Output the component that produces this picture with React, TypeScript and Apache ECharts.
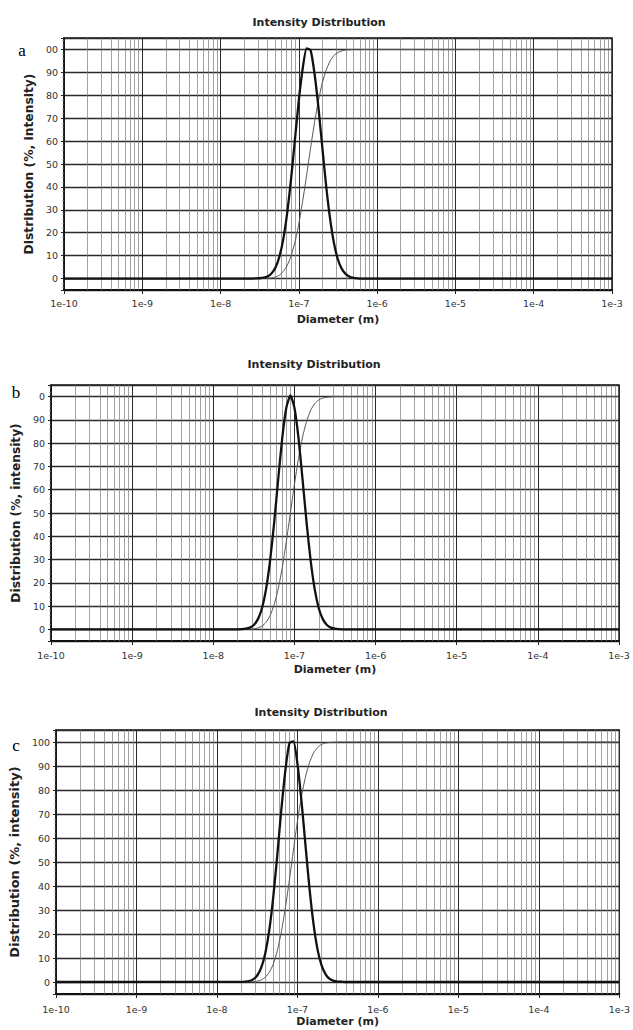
import React, { useEffect, useRef } from 'react';
import * as echarts from 'echarts';

// Diameter grid (m) shared by the three measurements
const diameters = [
  1e-10, 1.995e-8, 2.239e-8, 2.512e-8, 2.818e-8, 3.162e-8, 3.548e-8, 3.981e-8, 4.467e-8,
  5.012e-8, 5.623e-8, 6.31e-8, 7.079e-8, 7.943e-8, 8.913e-8, 1.0e-7, 1.122e-7, 1.259e-7,
  1.413e-7, 1.585e-7, 1.778e-7, 1.995e-7, 2.239e-7, 2.512e-7, 2.818e-7, 3.162e-7, 3.548e-7,
  3.981e-7, 4.467e-7, 5.012e-7, 5.623e-7, 6.31e-7, 1e-3,
];

// Panel a
const intensityA = [
  0, 0, 0, 0, 0.04, 0.13, 0.36, 0.93, 2.2, 4.7, 9.4, 17.0, 28.3, 43.3, 60.7, 78.0, 91.9, 100.5,
  99.6, 89.5, 74.7, 57.1, 40.0, 25.8, 15.2, 8.2, 4.1, 1.9, 0.8, 0.3, 0.1, 0, 0,
];
const cumulativeA = [
  0, 0, 0, 0, 0, 0, 0.04, 0.11, 0.29, 0.68, 1.46, 3.0, 5.6, 9.8, 15.9, 23.9, 34.1, 45.2, 57.1,
  68.1, 77.6, 85.5, 91.1, 95.0, 97.4, 98.7, 99.4, 99.8, 99.9, 100, 100, 100, 100,
];

// Panel b
const intensityB = [
  0, 0.03, 0.09, 0.27, 0.76, 1.9, 4.4, 9.1, 17.2, 29.5, 45.8, 64.5, 82.3, 95.2, 100.5, 95.2,
  82.3, 64.5, 45.8, 29.5, 17.2, 9.1, 4.4, 1.9, 0.76, 0.27, 0.09, 0.03, 0, 0, 0, 0, 0,
];
const cumulativeB = [
  0, 0, 0, 0.03, 0.09, 0.25, 0.62, 1.43, 3.04, 5.9, 10.6, 17.4, 26.6, 37.7, 50.0, 62.3, 73.4,
  82.6, 89.4, 94.1, 97.0, 98.6, 99.4, 99.75, 99.9, 100, 100, 100, 100, 100, 100, 100, 100,
];

// Panel c
const intensityC = [
  0, 0.04, 0.14, 0.41, 1.1, 2.7, 6.0, 11.9, 21.6, 35.6, 53.1, 71.9, 88.2, 99.5, 100.3, 90.9,
  75.5, 56.9, 38.9, 24.1, 13.5, 6.9, 3.2, 1.3, 0.5, 0.2, 0.1, 0, 0, 0, 0, 0, 0,
];
const cumulativeC = [
  0, 0, 0, 0.05, 0.13, 0.36, 0.87, 1.97, 4.0, 7.5, 13.0, 20.9, 30.9, 42.5, 55.0, 67.0, 77.3,
  85.5, 91.5, 95.4, 97.7, 99.0, 99.6, 99.8, 99.9, 100, 100, 100, 100, 100, 100, 100, 100,
];

const xTickLabels = ['1e-10', '1e-9', '1e-8', '1e-7', '1e-6', '1e-5', '1e-4', '1e-3'];
const yTickLabelsA = ['0', '10', '20', '30', '40', '50', '60', '70', '80', '90', '00'];
const yTickLabelsB = ['0', '10', '20', '30', '40', '50', '60', '70', '80', '90', '0'];
const yTickLabelsC = ['0', '10', '20', '30', '40', '50', '60', '70', '80', '90', '100'];
const minorMultipliers = [2, 3, 4, 5, 6, 7, 8, 9];
const decadeExponents = [-10, -9, -8, -7, -6, -5, -4];
const panelLetters = ['a', 'b', 'c'];
const chartTitle = 'Intensity Distribution';
const xAxisTitle = 'Diameter (m)';
const yAxisTitle = 'Distribution (%, intensity)';

const panelData = [
  { intensity: intensityA, cumulative: cumulativeA, yLabels: yTickLabelsA },
  { intensity: intensityB, cumulative: cumulativeB, yLabels: yTickLabelsB },
  { intensity: intensityC, cumulative: cumulativeC, yLabels: yTickLabelsC },
];

const layout = [
  { left: 64, top: 38, width: 548, height: 252, titleX: 319, titleY: 22, letterX: 22, letterY: 50,
    xNameGap: 24, yNameGap: 25, yNameSize: 12.3, xLabelMargin: 8 },
  { left: 51, top: 385, width: 568, height: 256, titleX: 314, titleY: 364, letterX: 16, letterY: 392,
    xNameGap: 23, yNameGap: 25, yNameSize: 12.2, xLabelMargin: 9 },
  { left: 54, top: 730, width: 568, height: 264, titleX: 321, titleY: 712, letterX: 16, letterY: 745,
    xNameGap: 22, yNameGap: 27, yNameSize: 13, xLabelMargin: 10 },
];

const minorGridValues: number[] = [];
decadeExponents.forEach((e) => {
  minorMultipliers.forEach((m) => {
    minorGridValues.push(m * Math.pow(10, e));
  });
});

function buildOption() {
  const boldFont = 'DejaVu Sans';
  return {
    animation: false,
    backgroundColor: '#ffffff',
    grid: layout.map((p) => ({
      left: p.left,
      top: p.top,
      width: p.width,
      height: p.height,
      show: true,
      borderColor: '#111',
      borderWidth: 1.4,
      backgroundColor: 'transparent',
    })),
    xAxis: layout.map((p, i) => ({
      type: 'log',
      logBase: 10,
      gridIndex: i,
      min: 1e-10,
      max: 1e-3,
      name: xAxisTitle,
      nameLocation: 'middle',
      nameGap: p.xNameGap,
      nameTextStyle: { fontFamily: boldFont, fontWeight: 'bold', fontSize: 11, color: '#222' },
      axisLine: { show: true, onZero: false, lineStyle: { color: '#111', width: 2 } },
      axisTick: { show: true, inside: false, length: 4, lineStyle: { color: '#222', width: 1 } },
      axisLabel: {
        formatter: (v: number) => xTickLabels[Math.round(Math.log10(v)) + 10] ?? '',
        fontFamily: 'DejaVu Sans',
        fontSize: 9.5,
        color: '#333',
        margin: p.xLabelMargin,
        showMinLabel: true,
        showMaxLabel: true,
      },
      splitLine: { show: true, lineStyle: { color: '#2a2a2a', width: 1 } },
    })),
    yAxis: layout.map((p, i) => ({
      type: 'value',
      gridIndex: i,
      min: -5,
      max: 105,
      splitNumber: 11,
      name: yAxisTitle,
      nameLocation: 'middle',
      nameGap: p.yNameGap,
      nameTextStyle: { fontFamily: boldFont, fontWeight: 'bold', fontSize: p.yNameSize, color: '#222' },
      axisLine: { show: true, lineStyle: { color: '#111', width: 1.5 } },
      axisTick: { show: true, length: 3, lineStyle: { color: '#222' } },
      minorTick: { show: true, splitNumber: 5, length: 1.5, lineStyle: { color: '#666' } },
      axisLabel: {
        formatter: (v: number) => {
          const idx = Math.round(v / 10);
          if (v < 0 || v > 100 || Math.abs(v - idx * 10) > 1e-6) return '';
          return panelData[i].yLabels[idx];
        },
        showMinLabel: false,
        showMaxLabel: false,
        margin: 6,
        fontFamily: 'DejaVu Sans',
        fontSize: 9.5,
        color: '#333',
      },
      splitLine: { show: true, lineStyle: { color: '#2a2a2a', width: 1.3 } },
    })),
    series: panelData.flatMap((pd, i) => [
      {
        type: 'line',
        name: 'cumulative-' + panelLetters[i],
        xAxisIndex: i,
        yAxisIndex: i,
        data: diameters.map((d, k) => [d, pd.cumulative[k]]),
        showSymbol: false,
        smooth: 0.2,
        z: 3,
        lineStyle: { color: '#555', width: 1 },
        markLine: {
          silent: true,
          symbol: 'none',
          z: 1,
          animation: false,
          label: { show: false },
          lineStyle: { color: '#7a7a7a', width: 0.7, type: 'solid' },
          data: minorGridValues.map((v) => [{ coord: [v, -5] }, { coord: [v, 105] }]),
        },
      },
      {
        type: 'line',
        name: 'intensity-' + panelLetters[i],
        xAxisIndex: i,
        yAxisIndex: i,
        data: diameters.map((d, k) => [d, pd.intensity[k]]),
        showSymbol: false,
        smooth: 0.2,
        z: 4,
        lineStyle: { color: '#111', width: 2.3 },
      },
    ]),
    graphic: layout.flatMap((p, i) => [
      {
        type: 'text',
        x: p.titleX,
        y: p.titleY,
        style: {
          text: chartTitle,
          textAlign: 'center',
          textVerticalAlign: 'middle',
          fontFamily: boldFont,
          fontWeight: 'bold',
          fontSize: 11,
          fill: '#222',
        },
      },
      {
        type: 'text',
        x: p.letterX,
        y: p.letterY,
        style: {
          text: panelLetters[i],
          textAlign: 'center',
          textVerticalAlign: 'middle',
          fontFamily: 'Liberation Serif',
          fontSize: 17,
          fill: '#000',
        },
      },
    ]),
  };
}

export default function App() {
  const ref = useRef<HTMLDivElement>(null);
  useEffect(() => {
    if (!ref.current) return;
    const chart = echarts.init(ref.current, null, { renderer: 'svg' });
    chart.setOption(buildOption() as any);
    return () => chart.dispose();
  }, []);
  return (
    <div
      ref={ref}
      style={{ position: 'absolute', left: 0, top: 0, width: 633, height: 1030, background: '#fff' }}
    />
  );
}
